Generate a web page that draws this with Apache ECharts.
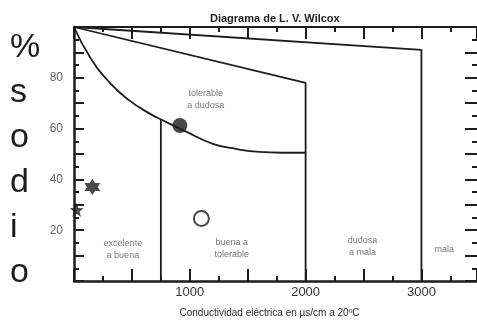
<!DOCTYPE html>
<html>
<head>
<meta charset="utf-8">
<script src="https://cdn.jsdelivr.net/npm/echarts@6/dist/echarts.min.js"></script>
<style>
  html, body { margin: 0; padding: 0; background: #fff; }
  #chart { width: 477px; height: 324px; }
</style>
</head>
<body>
<div id="chart"></div>
<script>
// Wilcox diagram: conductivity (µS/cm) vs % sodium
const xTickLabels = [1000, 2000, 3000]
const yTickLabels = [20, 40, 60, 80]

// class boundaries
const boundTo2000 = [[0, 100], [2000, 78], [2000, 0]]
const boundTo3000 = [[0, 100], [3000, 91], [3000, 0]]
const boundCurve = [
  [0, 100], [140, 88], [310, 78], [480, 71], [650, 66], [780, 63],
  [960, 59], [1200, 54], [1400, 52], [1600, 50.8], [1800, 50.5], [2000, 50.5],
]
const boundAt750 = [[750, 63.8], [750, 0]]

// samples
const sampleFilled = [[914, 61.2]]
const sampleOpen = [[1100, 24.6]]
const sampleHexStar = [[158, 37]]
const sampleStar = [[23, 28]]

// class names
const zoneLabels = [
  { name: 'tolerable\na dudosa', value: [1138, 71.4] },
  { name: 'excelente\na buena', value: [422, 12.2] },
  { name: 'buena a\ntolerable', value: [1362, 12.9] },
  { name: 'dudosa\na mala', value: [2491, 13.7] },
  { name: 'mala', value: [3198, 12.2] },
]

const FONT = 'Liberation Sans, Arial, sans-serif'
const INK = '#1c1c1c'

const hexagram = 'path://M0,-10L8.66,5L-8.66,5Z M0,10L-8.66,-5L8.66,-5Z'
const star5 = 'path://M0,-10L2.35,-3.24L9.51,-3.09L3.8,1.24L5.88,8.09L0,4L-5.88,8.09L-3.8,1.24L-9.51,-3.09L-2.35,-3.24Z'

const chart = echarts.init(document.getElementById('chart'), null, { renderer: 'canvas' })

const lineSeries = (data, extra) => ({
  type: 'line',
  data,
  symbol: 'none',
  silent: true,
  lineStyle: { color: INK, width: 1.8 },
  z: 3,
  ...extra,
})

const tickStyle = { color: INK, width: 2 }

chart.setOption({
  animation: false,
  backgroundColor: '#fff',
  title: {
    text: 'Diagrama de L. V. Wilcox',
    left: 205,
    top: 8,
    textStyle: { fontFamily: FONT, fontSize: 11, fontWeight: 'bold', color: INK },
  },
  grid: { left: 74, right: -1, top: 27, bottom: 43 },
  graphic: [
    {
      type: 'text',
      left: 10,
      top: 25,
      style: {
        text: '%\ns\no\nd\ni\no',
        font: '34px ' + FONT,
        fill: INK,
        lineHeight: 45,
        align: 'center',
        width: 28,
      },
    },
  ],
  xAxis: [
    {
      type: 'value',
      min: 0,
      max: 3480,
      interval: 500,
      position: 'bottom',
      name: 'Conductividad eléctrica en µs/cm a 20ºC',
      nameLocation: 'middle',
      nameGap: 27,
      nameTextStyle: { fontFamily: FONT, fontSize: 10, color: '#2a2a2a', padding: [0, 12, 0, 0] },
      axisLine: { onZero: false, lineStyle: { color: INK, width: 2.5 } },
      axisTick: { inside: true, length: 12, lineStyle: tickStyle },
      minorTick: { show: true, splitNumber: 2, length: 5, lineStyle: tickStyle },
      axisLabel: {
        fontFamily: FONT,
        fontSize: 13,
        color: '#333',
        margin: 5,
        showMaxLabel: false,
        formatter: (v) => (xTickLabels.includes(v) ? String(v) : ''),
      },
      splitLine: { show: false },
    },
    {
      type: 'value',
      min: 0,
      max: 3480,
      interval: 500,
      position: 'top',
      axisLine: { onZero: false, lineStyle: { color: INK, width: 2 } },
      axisTick: { inside: true, length: 12, lineStyle: tickStyle },
      minorTick: { show: true, splitNumber: 2, length: 5, lineStyle: tickStyle },
      axisLabel: { show: false },
      splitLine: { show: false },
    },
  ],
  yAxis: [
    {
      type: 'value',
      min: 0,
      max: 100,
      interval: 10,
      position: 'left',
      axisLine: { onZero: false, lineStyle: { color: INK, width: 2.5 } },
      axisTick: { inside: true, length: 10, lineStyle: tickStyle },
      minorTick: { show: true, splitNumber: 2, length: 5, lineStyle: tickStyle },
      axisLabel: {
        fontFamily: FONT,
        fontSize: 12,
        color: '#666',
        margin: 11,
        padding: [0, 0, 6, 0],
        formatter: (v) => (yTickLabels.includes(v) ? String(v) : ''),
      },
      splitLine: { show: false },
    },
    {
      // right-hand scale, offset half a step from the left one
      type: 'value',
      min: -2.5,
      max: 97.5,
      interval: 10,
      position: 'right',
      axisLine: { show: false, onZero: false },
      axisTick: { show: true, inside: true, length: 12, lineStyle: tickStyle },
      minorTick: { show: true, splitNumber: 2, length: 5, lineStyle: tickStyle },
      axisLabel: { show: false },
      splitLine: { show: false },
    },
  ],
  series: [
    lineSeries(boundTo2000),
    lineSeries(boundTo3000),
    lineSeries(boundCurve, { smooth: 0.5 }),
    lineSeries(boundAt750),
    {
      type: 'scatter',
      data: zoneLabels,
      symbolSize: 0,
      silent: true,
      label: {
        show: true,
        position: 'inside',
        formatter: '{b}',
        fontFamily: FONT,
        fontSize: 9,
        lineHeight: 12,
        color: '#555',
        align: 'center',
      },
    },
    {
      type: 'scatter',
      data: sampleFilled,
      symbol: 'circle',
      symbolSize: 15,
      itemStyle: { color: INK },
      z: 5,
    },
    {
      type: 'scatter',
      data: sampleOpen,
      symbol: 'circle',
      symbolSize: 15,
      itemStyle: { color: '#fff', borderColor: INK, borderWidth: 2 },
      z: 5,
    },
    {
      type: 'scatter',
      data: sampleHexStar,
      symbol: hexagram,
      symbolSize: 16,
      itemStyle: { color: INK },
      z: 5,
    },
    {
      type: 'scatter',
      data: sampleStar,
      symbol: star5,
      symbolSize: 14,
      itemStyle: { color: INK },
      z: 5,
    },
  ],
})
</script>
</body>
</html>
